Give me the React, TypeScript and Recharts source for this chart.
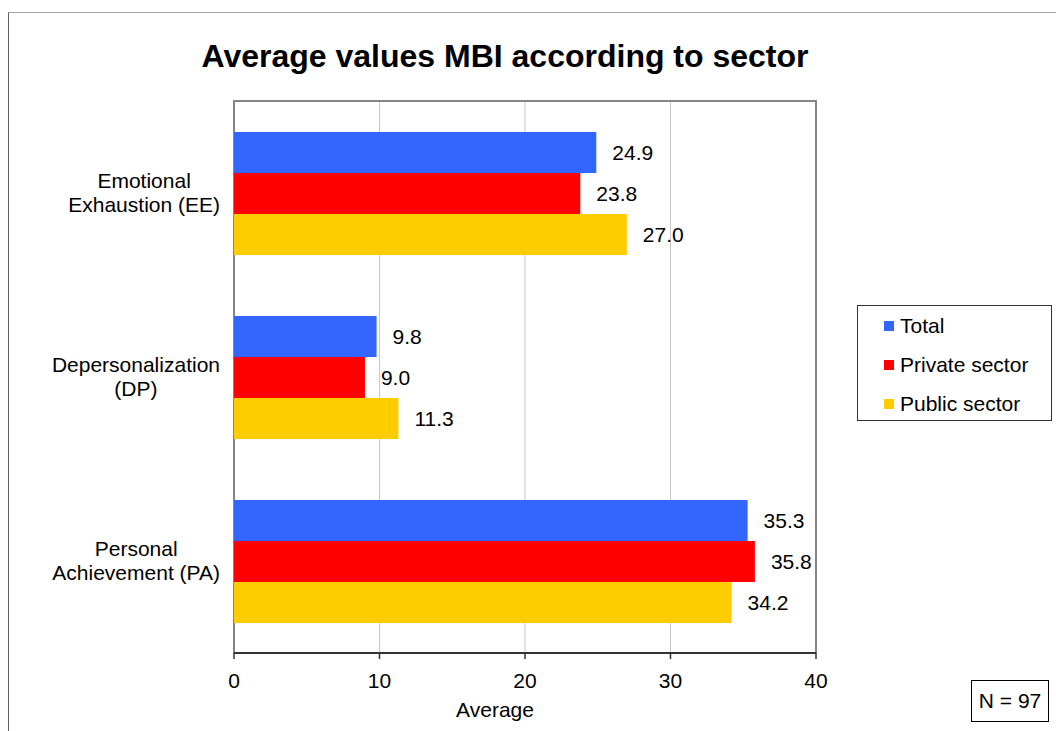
import React from 'react';
import {
  BarChart, Bar, XAxis, YAxis, CartesianGrid, ReferenceArea, LabelList, Legend,
} from 'recharts';

// MBI subscales, average score per sector
const CATEGORIES = ['Emotional\nExhaustion (EE)', 'Depersonalization\n(DP)', 'Personal\nAchievement (PA)'];
const TOTAL = [24.9, 9.8, 35.3];
const PRIVATE_SECTOR = [23.8, 9.0, 35.8];
const PUBLIC_SECTOR = [27.0, 11.3, 34.2];
const X_TICKS = [0, 10, 20, 30, 40];
const SAMPLE_SIZE = 97;

const SERIES = [
  { key: 'total', name: 'Total', color: '#3366FF' },
  { key: 'privateSector', name: 'Private sector', color: '#FF0000' },
  { key: 'publicSector', name: 'Public sector', color: '#FFCC00' },
];

const rows = CATEGORIES.map((category, i) => ({
  category,
  total: TOTAL[i],
  privateSector: PRIVATE_SECTOR[i],
  publicSector: PUBLIC_SECTOR[i],
}));

const FONT = "'Liberation Sans', Arial, sans-serif";
const FONT_SIZE = 21;

let measureCtx: CanvasRenderingContext2D | null = null;
const textWidth = (s: string) => {
  if (!measureCtx) measureCtx = document.createElement('canvas').getContext('2d');
  if (!measureCtx) return s.length * FONT_SIZE * 0.5;
  measureCtx.font = `${FONT_SIZE}px 'Liberation Sans'`;
  return measureCtx.measureText(s).width;
};

// multi-line category label: lines centred inside a right-aligned block
const CategoryTick = ({ x, y, payload }: any) => {
  const lines = String(payload.value).split('\n');
  const blockW = Math.max(...lines.map(textWidth));
  const cx = x - 6 - blockW / 2;
  return (
    <text x={cx} y={y} textAnchor="middle" fontFamily={FONT} fontSize={FONT_SIZE} fill="#000">
      {lines.map((l, i) => (
        <tspan key={i} x={cx} y={y - 5 + i * 24}>{l}</tspan>
      ))}
    </text>
  );
};

const LegendBox = () => (
  <div style={{
    width: 195, height: 116, border: '1px solid #333', background: '#fff',
    boxSizing: 'border-box', fontFamily: FONT, fontSize: FONT_SIZE, color: '#000',
  }}>
    {SERIES.map(s => (
      <div key={s.key} style={{ height: 39, display: 'flex', alignItems: 'center', paddingLeft: 26 }}>
        <span style={{ width: 10, height: 10, background: s.color, marginRight: 6, display: 'inline-block' }} />
        <span>{s.name}</span>
      </div>
    ))}
  </div>
);

export default function App() {
  return (
    <div style={{ position: 'absolute', left: 0, top: 0, width: 1056, height: 731, background: '#fff', overflow: 'hidden' }}>
      {/* chart area frame */}
      <div style={{
        position: 'absolute', left: 8, top: 12, width: 1100, height: 800,
        borderTop: '1px solid #a6a6a6', borderLeft: '1px solid #606060',
      }} />
      <div style={{
        position: 'absolute', left: 0, top: 40, width: 1010, textAlign: 'center',
        fontFamily: FONT, fontWeight: 'bold', fontSize: 32, lineHeight: '32px', color: '#000',
      }}>
        Average values MBI according to sector
      </div>
      <div style={{ position: 'absolute', left: 0, top: 0 }}>
        <BarChart
          width={1056}
          height={731}
          data={rows}
          layout="vertical"
          margin={{ top: 101, right: 240, bottom: 0, left: 0 }}
          barSize={41}
          barGap={0}
        >
          <CartesianGrid horizontal={false} stroke="#c8c8c8" strokeWidth={1} />
          {/* plot frame; left and bottom get covered by the axis lines */}
          <ReferenceArea x1={0} x2={40} fill="none" stroke="#858585" strokeWidth={2} ifOverflow="visible" />
          <XAxis
            type="number"
            domain={[0, 40]}
            ticks={X_TICKS}
            height={78}
            tick={{ fill: '#000', fontSize: FONT_SIZE, fontFamily: FONT }}
            tickSize={6}
            tickMargin={14}
            tickLine={{ stroke: '#333', strokeWidth: 1.5 }}
            axisLine={{ stroke: '#333', strokeWidth: 2 }}
            label={{
              value: 'Average',
              content: ({ viewBox }: any) => (
                <text
                  x={viewBox.x + viewBox.width / 2 - 30}
                  y={717}
                  textAnchor="middle"
                  fontFamily={FONT}
                  fontSize={FONT_SIZE}
                  fill="#000"
                >
                  Average
                </text>
              ),
            }}
          />
          {/* boundary tick marks between categories */}
          <YAxis
            yAxisId="edges"
            type="number"
            domain={[0, 3]}
            ticks={[0, 1, 2, 3]}
            width={0}
            tick={false}
            tickSize={6}
            tickLine={{ stroke: '#333', strokeWidth: 1.5 }}
            axisLine={{ stroke: '#333', strokeWidth: 2 }}
          />
          <YAxis
            type="category"
            dataKey="category"
            width={234}
            axisLine={false}
            tickLine={false}
            tick={<CategoryTick />}
            interval={0}
          />
          <Legend
            layout="horizontal"
            verticalAlign="middle"
            align="center"
            wrapperStyle={{ left: 857, top: 305, width: 195, height: 116 }}
            content={() => <LegendBox />}
          />
          {SERIES.map(s => (
            <Bar key={s.key} dataKey={s.key} name={s.name} fill={s.color} isAnimationActive={false}>
              <LabelList
                dataKey={s.key}
                position="right"
                offset={16}
                formatter={(v: any) => Number(v).toFixed(1)}
                style={{ fill: '#000', fontSize: FONT_SIZE, fontFamily: FONT }}
              />
            </Bar>
          ))}
        </BarChart>
      </div>
      <div style={{
        position: 'absolute', left: 971, top: 680, width: 78, height: 42,
        border: '1.5px solid #000', boxSizing: 'border-box',
        display: 'flex', alignItems: 'center', justifyContent: 'center',
        fontFamily: FONT, fontSize: FONT_SIZE, color: '#000',
      }}>
        N = {SAMPLE_SIZE}
      </div>
    </div>
  );
}
